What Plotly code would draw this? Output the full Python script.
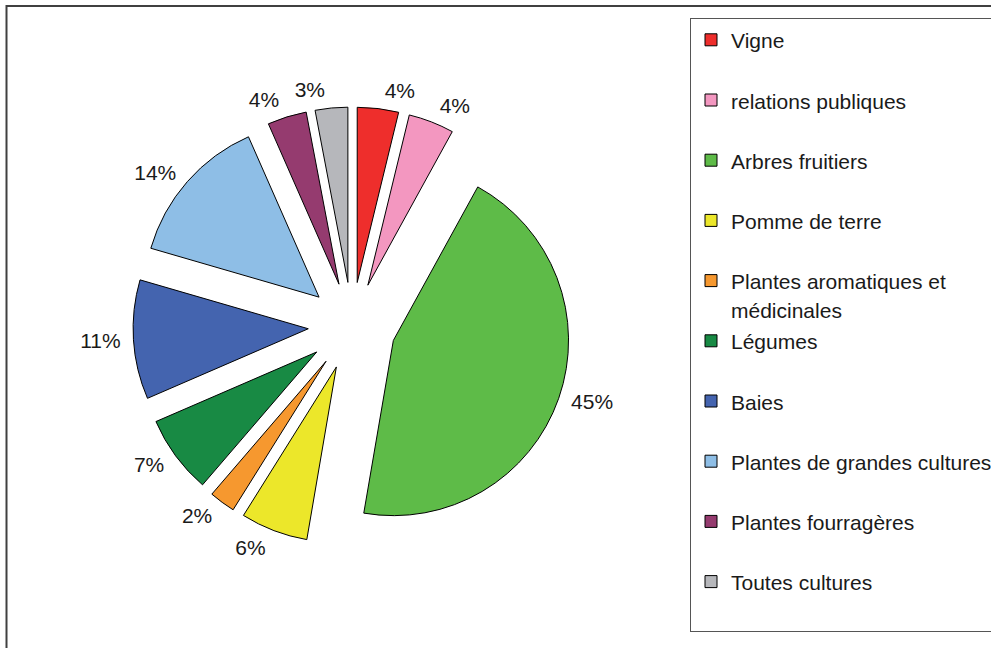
import plotly.graph_objects as go

# ---- data ----
categories = [
    "Vigne",
    "relations publiques",
    "Arbres fruitiers",
    "Pomme de terre",
    "Plantes aromatiques et<br>médicinales",
    "Légumes",
    "Baies",
    "Plantes de grandes cultures",
    "Plantes fourragères",
    "Toutes cultures",
]
shares = [3.8, 4.2, 44.7, 6.2, 2.4, 7.2, 11.0, 13.9, 3.6, 3.0]
colors = [
    "#EE2E2C", "#F397C0", "#5EBB48", "#ECE72A", "#F6982F",
    "#188A44", "#4464AF", "#8EBEE6", "#953B6F", "#B6B7BB",
]
# two label groups, drawn by separate overlay traces (avoids leader lines)
label_group_a = ["Vigne", "Toutes cultures"]

FONT = "Liberation Sans, Arial, sans-serif"
TXT = 21


def legend_label(name):
    parts = name.split("<br>")
    body = "<br>".join('<span style="font-size:%dpx">%s</span>' % (TXT, p) for p in parts)
    return body + "<br> " * (2 - len(parts))


labels = [legend_label(c) for c in categories]

W, H = 991, 648
cx, cy, half = 352, 326, 219
label_half = 226


def dom(h):
    return dict(
        x=[(cx - h) / W, (cx + h) / W],
        y=[1 - (cy + h) / H, 1 - (cy - h) / H],
    )


pulls = [0.25] * len(shares)

fig = go.Figure()
# visible slices
fig.add_trace(
    go.Pie(
        labels=labels,
        values=shares,
        sort=False,
        direction="clockwise",
        rotation=0,
        pull=pulls,
        marker=dict(colors=colors, line=dict(color="#000000", width=1)),
        textinfo="none",
        domain=dom(half),
        hovertemplate="%{label}: %{percent}<extra></extra>",
    )
)
# percentage labels (transparent overlay pies, same data)
for group_in in (True, False):
    pos = ["outside" if ((c in label_group_a) == group_in) else "none" for c in categories]
    fig.add_trace(
        go.Pie(
            labels=labels,
            values=shares,
            sort=False,
            direction="clockwise",
            rotation=0,
            pull=pulls,
            marker=dict(colors=["rgba(0,0,0,0)"] * len(shares), line=dict(width=0)),
            texttemplate="%{percent:.0%}",
            textposition=pos,
            textfont=dict(family=FONT, size=TXT, color="#1a1a1a"),
            domain=dom(label_half),
            showlegend=False,
            hoverinfo="skip",
        )
    )

fig.update_layout(
    width=W,
    height=H,
    margin=dict(l=0, r=0, t=0, b=0, autoexpand=False),
    paper_bgcolor="#ffffff",
    plot_bgcolor="#ffffff",
    font=dict(family=FONT, color="#1a1a1a"),
    showlegend=True,
    legend=dict(
        x=690 / W,
        xanchor="left",
        y=1 - 18 / H,
        yanchor="top",
        bordercolor="#555555",
        borderwidth=1,
        bgcolor="#ffffff",
        font=dict(family=FONT, size=22, color="#1a1a1a"),
        valign="top",
        traceorder="normal",
    ),
    shapes=[
        dict(
            type="rect", xref="paper", yref="paper",
            x0=6.5 / W, x1=1.1, y0=-0.1, y1=1 - 6 / H,
            line=dict(color="#404040", width=2),
            fillcolor="rgba(0,0,0,0)",
            layer="below",
        )
    ],
)

fig.write_html(
    "out.html",
    config={"displayModeBar": False},
    post_script="document.body.style.margin='0px';document.body.style.overflow='hidden';",
)
